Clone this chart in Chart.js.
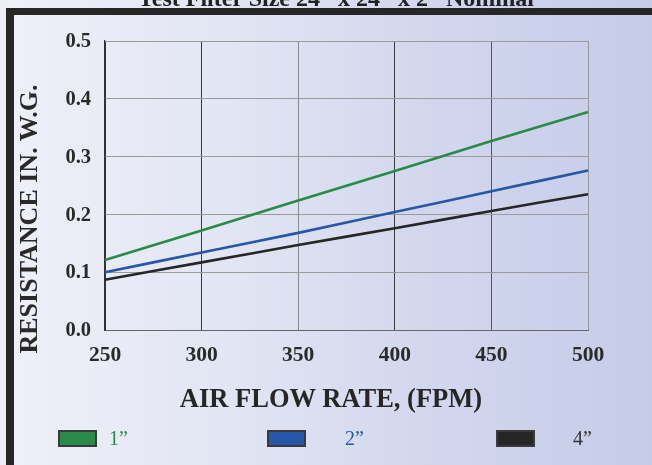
<!DOCTYPE html>
<html>
<head>
<meta charset="utf-8">
<script src="https://cdn.jsdelivr.net/npm/chart.js@4.4.1/dist/chart.umd.min.js"></script>
<style>
  html, body { margin:0; padding:0; }
  body {
    width:652px; height:465px; overflow:hidden; position:relative;
    background: linear-gradient(to right, #eff0f8 0%, #e2e5f3 35%, #d3d7ee 65%, #c6cbe8 100%);
    font-family: "Liberation Serif", "DejaVu Serif", serif;
  }
  #wrap { position:absolute; left:0; top:0; width:652px; height:465px; }
  #topbar { position:absolute; left:6px; top:8px; width:646px; height:7px; background:#262626; z-index:3; }
  #leftbar { position:absolute; left:6px; top:8px; width:8px; height:457px; background:#262626; z-index:3; }
  #outer { position:absolute; left:0; top:0; width:6px; height:465px; background:#eeeff5; z-index:2; }
  #title { position:absolute; left:0; width:672px; top:-14px; text-align:center; font-weight:bold;
           font-size:24px; line-height:24px; color:#222; white-space:nowrap; z-index:1; }
  #ytitle { position:absolute; left:29px; top:219px; transform:translate(-50%,-50%) rotate(-90deg);
            font-weight:bold; font-size:26px; line-height:26px; color:#2a2a2a; white-space:nowrap; z-index:4; }
  #xtitle { position:absolute; left:0; width:662px; top:385px; text-align:center; font-weight:bold;
            font-size:26.5px; line-height:26.5px; color:#262626; white-space:nowrap; z-index:4; }
  .lg { position:absolute; top:430px; height:17px; z-index:4; }
  .lgbox { position:absolute; left:0; top:0; width:35px; height:13px; border:2px solid #3a3a3a; }
  .lgtxt { position:absolute; top:-3px; font-size:20px; line-height:22px; white-space:nowrap; }
</style>
</head>
<body>
<div id="outer"></div>
<div id="title">Test Filter Size 24” x 24” x 2” Nominal</div>
<div id="topbar"></div>
<div id="leftbar"></div>
<div id="ytitle">RESISTANCE IN. W.G.</div>
<div id="xtitle">AIR FLOW RATE, (FPM)</div>
<div id="wrap"><canvas id="c" width="652" height="465"></canvas></div>
<div id="legend"></div>
<script>
// ---- data ----
const flowRates = [250, 300, 350, 400, 450, 500];
const resistance1in = [0.121, 0.172, 0.224, 0.275, 0.327, 0.377];
const resistance2in = [0.100, 0.134, 0.168, 0.204, 0.240, 0.276];
const resistance4in = [0.087, 0.117, 0.147, 0.176, 0.206, 0.235];
const seriesNames = ['1”', '2”', '4”'];
const yTicks = [0, 0.1, 0.2, 0.3, 0.4, 0.5];

// ---- styles ----
const seriesColors = ['#2a8a48', '#2757a8', '#262626'];
const legendTextColors = ['#2a8a48', '#2757a8', '#333333'];
const legendLeft = [58, 267, 496];
const legendTextOffset = [51, 78, 77];
const xGridColors = ['#333333', '#3a3a3a', '#8a8a8a', '#3a3a3a', '#555555', '#999999'];
const FONT = '"Liberation Serif", "DejaVu Serif", serif';

const seriesValues = [resistance1in, resistance2in, resistance4in];

const chart = new Chart(document.getElementById('c'), {
  type: 'line',
  data: {
    labels: flowRates.map(String),
    datasets: seriesNames.map((n, i) => ({
      label: n,
      data: seriesValues[i],
      borderColor: seriesColors[i],
      backgroundColor: seriesColors[i],
      borderWidth: 2.6,
      pointRadius: 0,
      tension: 0.15,
      fill: false
    }))
  },
  options: {
    responsive: false,
    animation: false,
    devicePixelRatio: 1,
    layout: { padding: { top: 41, right: 64, left: 0, bottom: 51 } },
    plugins: { legend: { display: false }, title: { display: false }, tooltip: { enabled: false } },
    scales: {
      x: {
        type: 'category',
        offset: false,
        afterFit: s => { s.height = 84; },
        grid: {
          drawTicks: false,
          color: ctx => xGridColors[ctx.index] || '#888',
          lineWidth: 1
        },
        border: { color: '#666666', width: 1 },
        ticks: {
          padding: 13,
          color: '#2a2a2a',
          font: { family: FONT, size: 21.5, weight: 'bold' },
          maxRotation: 0
        },
        title: { display: false }
      },
      y: {
        min: 0, max: 0.5,
        afterFit: s => { s.width = 105; },
        afterBuildTicks: s => { s.ticks = yTicks.map(v => ({ value: v })); },
        grid: { drawTicks: false, color: '#9a9a9a', lineWidth: 1 },
        border: { color: '#333333', width: 1.2 },
        ticks: {
          padding: 14,
          labelOffset: 1,
          color: '#2a2a2a',
          font: { family: FONT, size: 20.5, weight: 'bold' },
          callback: v => Number(v).toFixed(1)
        }
      }
    }
  }
});

// legend built from the chart's datasets
const lg = document.getElementById('legend');
chart.data.datasets.forEach((ds, i) => {
  const item = document.createElement('div');
  item.className = 'lg';
  item.style.left = legendLeft[i] + 'px';
  const box = document.createElement('div');
  box.className = 'lgbox';
  box.style.background = ds.borderColor;
  const txt = document.createElement('div');
  txt.className = 'lgtxt';
  txt.style.left = legendTextOffset[i] + 'px';
  txt.style.color = legendTextColors[i];
  txt.textContent = ds.label;
  item.appendChild(box);
  item.appendChild(txt);
  lg.appendChild(item);
});
</script>
</body>
</html>
